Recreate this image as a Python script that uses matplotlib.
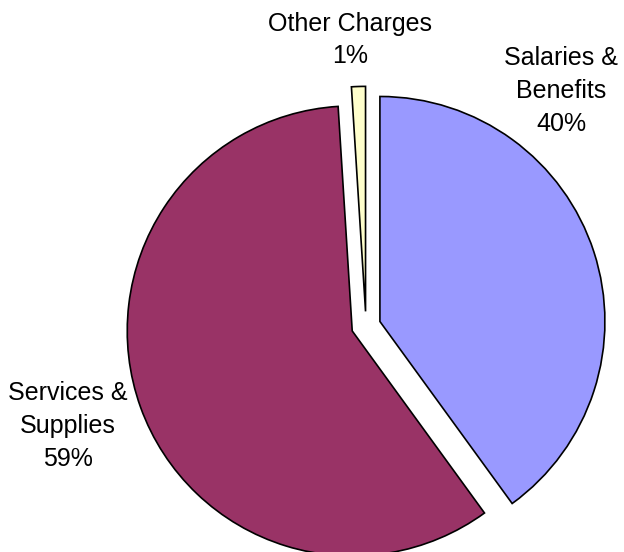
import matplotlib
matplotlib.use("Agg")
import matplotlib.pyplot as plt

categories = ["Salaries &\nBenefits", "Services &\nSupplies", "Other Charges"]
values = [40, 59, 1]
colors = ["#9999FF", "#993366", "#FFFFCC"]

W, H = 624, 552
fig = plt.figure(figsize=(W / 100, H / 100), dpi=100)
ax = fig.add_axes([0, 0, 1, 1])

cx, cy, R = 366, 326, 225  # pixel center and radius
ax.pie(values, colors=colors, startangle=90, counterclock=False,
       explode=[0.065] * 3, radius=1.0,
       wedgeprops=dict(edgecolor="black", linewidth=1.2))
ax.set_aspect("auto")
ax.set_xlim(-cx / R, (W - cx) / R)
ax.set_ylim(-(H - cy) / R, cy / R)
ax.axis("off")

def px(x, y):
    return ((x - cx) / R, (cy - y) / R)

font = dict(family=["Liberation Sans", "DejaVu Sans"], fontsize=18,
            ha="center", va="center", linespacing=1.45)
labels = [f"{c}\n{v}%" for c, v in zip(categories, values)]
ax.text(*px(561, 91), labels[0], **font)
ax.text(*px(68, 426), labels[1], **font)
ax.text(*px(350, 40), labels[2], **font)

fig.savefig("out.png", dpi=100)
